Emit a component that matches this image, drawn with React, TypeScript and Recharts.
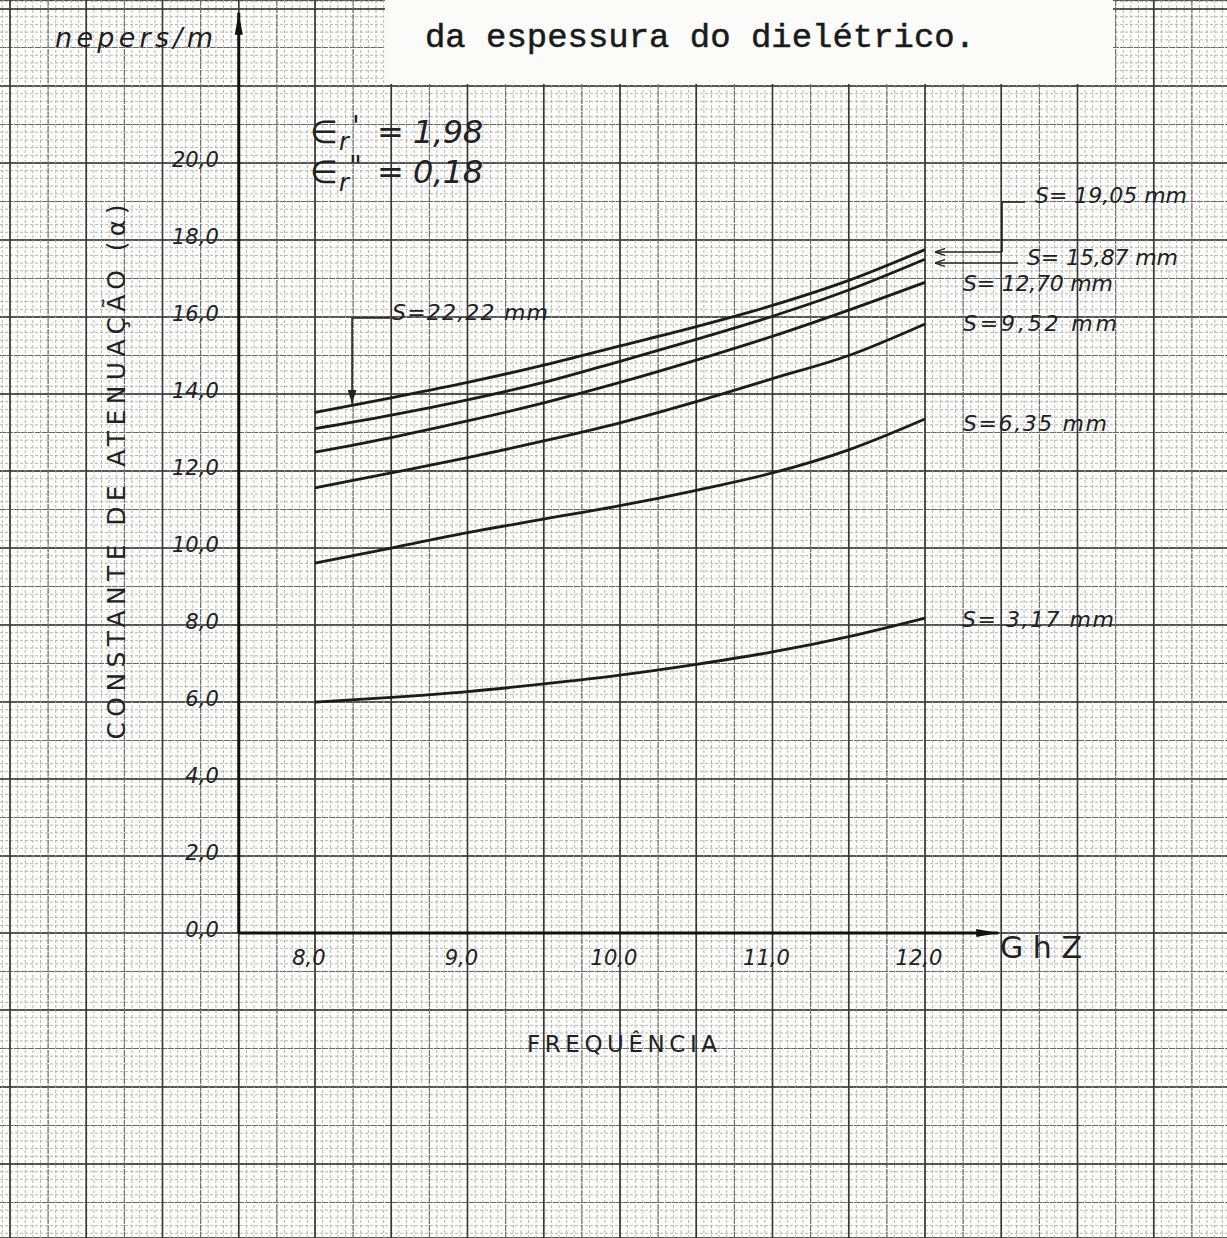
import React from 'react';
import {
  ComposedChart,
  Line,
  XAxis,
  YAxis,
  CartesianGrid,
  ReferenceLine,
  ReferenceDot,
} from 'recharts';

// ---- data ----
const frequencies = [8.0, 8.5, 9.0, 9.5, 10.0, 10.5, 11.0, 11.5, 12.0];
const s317 = [6.0, 6.12, 6.27, 6.47, 6.7, 6.98, 7.3, 7.7, 8.18];
const s635 = [9.61, 10.0, 10.4, 10.75, 11.1, 11.5, 11.95, 12.55, 13.35];
const s952 = [11.56, 11.95, 12.35, 12.78, 13.25, 13.8, 14.4, 15.0, 15.82];
const s1270 = [12.49, 12.87, 13.3, 13.77, 14.3, 14.88, 15.5, 16.18, 16.9];
const s1587 = [13.1, 13.45, 13.85, 14.3, 14.85, 15.42, 16.02, 16.7, 17.5];
const s1905 = [13.52, 13.9, 14.3, 14.75, 15.25, 15.75, 16.3, 16.95, 17.75];

const xTicks = [8, 9, 10, 11, 12];
const xTickLabels = ['8,0', '9,0', '10,0', '11,0', '12,0'];
const yTicks = [0, 2, 4, 6, 8, 10, 12, 14, 16, 18, 20];
const yTickLabels = ['0,0', '2,0', '4,0', '6,0', '8,0', '10,0', '12,0', '14,0', '16,0', '18,0', '20,0'];

const seriesKeys = ['s317', 's635', 's952', 's1270', 's1587', 's1905'];

const data = frequencies.map((f, i) => ({
  f,
  s317: s317[i],
  s635: s635[i],
  s952: s952[i],
  s1270: s1270[i],
  s1587: s1587[i],
  s1905: s1905[i],
}));

// paper extent in data units (the graph paper covers the whole page)
const X_DOMAIN: [number, number] = [5.9344, 13.9803];
const Y_DOMAIN: [number, number] = [-7.922, 24.234];

const range = (start: number, step: number, count: number, digits: number) =>
  Array.from({ length: count }, (_, i) => +(start + i * step).toFixed(digits));

const fineX = range(5.95, 0.05, 161, 2);
const fineY = range(-7.8, 0.2, 161, 1);
const medX = range(6.0, 0.25, 32, 2);
const medY = range(-7, 1, 32, 0);
const heavyX = range(6.0, 0.5, 16, 1);
const heavyY = range(-6, 2, 16, 0);

const W = 1227;
const H = 1238;
const INK = '#1c1c1c';
const HAND = '"DejaVu Sans", "Liberation Sans", sans-serif';

const FINE = { stroke: '#a4a4a4', strokeWidth: 0.8, strokeDasharray: '3 2' };
const MED = { stroke: '#686868', strokeWidth: 1.1, strokeDasharray: '6 1' };
const HEAVY = { stroke: '#383838', strokeWidth: 1.6 };

export default function App() {
  return (
    <div style={{ position: 'absolute', left: 0, top: 0, width: W, height: H, background: '#fdfdfc' }}>
      <svg width={0} height={0} style={{ position: 'absolute' }}>
        <defs>
          <marker id="arrowBig" viewBox="0 0 22 10" refX="22" refY="5" markerWidth="22" markerHeight="10" markerUnits="userSpaceOnUse" orient="auto">
            <path d="M0,1 L22,5 L0,9 z" fill="#111" />
          </marker>
          <marker id="arrowSmall" viewBox="0 0 10 8" refX="10" refY="4" markerWidth="10" markerHeight="8" markerUnits="userSpaceOnUse" orient="auto">
            <path d="M0,0.5 L10,4 L0,7.5" fill="none" stroke="#222" strokeWidth="1.3" />
          </marker>
          <marker id="arrowFill" viewBox="0 0 14 9" refX="14" refY="4.5" markerWidth="14" markerHeight="9" markerUnits="userSpaceOnUse" orient="auto">
            <path d="M0,0 L14,4.5 L0,9 z" fill="#222" />
          </marker>
        </defs>
      </svg>
      <ComposedChart width={W} height={H} data={data} margin={{ top: 0, right: 0, bottom: 0, left: 0 }}>
        <XAxis xAxisId={0} dataKey="f" type="number" scale="linear" domain={X_DOMAIN} allowDataOverflow hide ticks={xTicks} />
        <YAxis yAxisId={0} type="number" scale="linear" domain={Y_DOMAIN} allowDataOverflow hide ticks={yTicks} />
        <YAxis yAxisId="fy" type="number" scale="linear" domain={Y_DOMAIN} allowDataOverflow hide ticks={fineY} interval={0} />
        <YAxis yAxisId="my" type="number" scale="linear" domain={Y_DOMAIN} allowDataOverflow hide ticks={medY} interval={0} />
        <YAxis yAxisId="hy" type="number" scale="linear" domain={Y_DOMAIN} allowDataOverflow hide ticks={heavyY} interval={0} />

        {/* horizontal rulings of the graph paper */}
        <CartesianGrid xAxisId={0} yAxisId="fy" vertical={false} {...FINE} />
        <CartesianGrid xAxisId={0} yAxisId="my" vertical={false} {...MED} />
        <CartesianGrid xAxisId={0} yAxisId="hy" vertical={false} {...HEAVY} />

        {/* vertical rulings of the graph paper */}
        {fineX.map((v) => (
          <ReferenceLine key={'fx' + v} xAxisId={0} yAxisId={0} x={v} {...FINE} />
        ))}
        {medX.map((v) => (
          <ReferenceLine key={'mx' + v} xAxisId={0} yAxisId={0} x={v} {...MED} />
        ))}
        {heavyX.map((v) => (
          <ReferenceLine key={'hx' + v} xAxisId={0} yAxisId={0} x={v} {...HEAVY} />
        ))}

        {/* axes drawn on the paper */}
        <ReferenceLine xAxisId={0} yAxisId={0} segment={[{ x: 7.5, y: 0 }, { x: 7.5, y: 23.9 }]} stroke="#111" strokeWidth={3} markerEnd="url(#arrowBig)" />
        <ReferenceLine xAxisId={0} yAxisId={0} segment={[{ x: 7.5, y: 0 }, { x: 12.48, y: 0 }]} stroke="#111" strokeWidth={3} markerEnd="url(#arrowBig)" />

        {/* leader lines */}
        <ReferenceLine xAxisId={0} yAxisId={0} segment={[{ x: 12.656, y: 18.987 }, { x: 12.505, y: 18.987 }]} stroke="#222" strokeWidth={1.6} />
        <ReferenceLine xAxisId={0} yAxisId={0} segment={[{ x: 12.505, y: 18.987 }, { x: 12.505, y: 17.689 }]} stroke="#222" strokeWidth={1.6} />
        <ReferenceLine xAxisId={0} yAxisId={0} segment={[{ x: 12.505, y: 17.689 }, { x: 12.066, y: 17.689 }]} stroke="#222" strokeWidth={1.6} markerEnd="url(#arrowSmall)" />
        <ReferenceLine xAxisId={0} yAxisId={0} segment={[{ x: 12.61, y: 17.403 }, { x: 12.066, y: 17.403 }]} stroke="#222" strokeWidth={1.6} markerEnd="url(#arrowSmall)" />
        <ReferenceLine xAxisId={0} yAxisId={0} segment={[{ x: 8.492, y: 15.974 }, { x: 8.243, y: 15.974 }]} stroke="#222" strokeWidth={1.6} />
        <ReferenceLine xAxisId={0} yAxisId={0} segment={[{ x: 8.243, y: 15.974 }, { x: 8.243, y: 13.75 }]} stroke="#222" strokeWidth={1.6} markerEnd="url(#arrowFill)" />

        {seriesKeys.map((k) => (
          <Line
            key={k}
            xAxisId={0}
            yAxisId={0}
            dataKey={k}
            type="monotone"
            stroke={INK}
            strokeWidth={2.8}
            dot={false}
            activeDot={false}
            isAnimationActive={false}
          />
        ))}

        {yTicks.map((v, i) => (
          <ReferenceDot
            key={'y' + v}
            xAxisId={0}
            yAxisId={0}
            x={7.5}
            y={v + 0.1}
            r={0}
            stroke="none"
            fill="none"
            label={{ value: yTickLabels[i], position: 'left', offset: 20, fontSize: 21, fontStyle: 'italic', fill: '#222', fontFamily: HAND }}
          />
        ))}
        {xTicks.map((v, i) => (
          <ReferenceDot
            key={'x' + v}
            xAxisId={0}
            yAxisId={0}
            x={v - 0.04}
            y={0}
            r={0}
            stroke="none"
            fill="none"
            label={{ value: xTickLabels[i], position: 'bottom', offset: 17, fontSize: 21, fontStyle: 'italic', fill: '#222', fontFamily: HAND }}
          />
        ))}
      </ComposedChart>

      <svg width={W} height={H} style={{ position: 'absolute', left: 0, top: 0, pointerEvents: 'none' }}>
        {/* pasted typewritten caption */}
        <rect x={385} y={0} width={728} height={84} fill="#fbfbfa" />
        <text x={425} y={47} fontSize={33} fontFamily='"Liberation Mono", "DejaVu Sans Mono", monospace' fill="#1a1a1a" stroke="#1a1a1a" strokeWidth={0.5} textLength={550} lengthAdjust="spacingAndGlyphs">
          da espessura do dielétrico.
        </text>

        <text x={55} y={47} fontSize={27} fontStyle="italic" fontFamily={HAND} fill="#1e1e1e" textLength={158} lengthAdjust="spacing">
          nepers/m
        </text>

        <text transform="translate(125,472) rotate(-90)" textAnchor="middle" fontSize={25} fontFamily={HAND} fill="#222" textLength={535} lengthAdjust="spacing">
          CONSTANTE  DE  ATENUAÇÃO  (α)
        </text>

        <text x={622} y={1052} textAnchor="middle" fontSize={23} fontFamily={HAND} fill="#222" textLength={190} lengthAdjust="spacing">
          FREQUÊNCIA
        </text>
        <text x={1000} y={958} fontSize={30} fontFamily={HAND} fill="#222" textLength={82} lengthAdjust="spacing">
          GhZ
        </text>

        {/* permittivity */}
        <text x={310} y={143} fontSize={32} fontFamily={HAND} fill="#222">∈</text>
        <text x={352} y={136} fontSize={28} fontFamily={HAND} fill="#222">'</text>
        <text x={339} y={150} fontSize={24} fontStyle="italic" fontFamily={HAND} fill="#222">r</text>
        <text x={377} y={143} fontSize={32} fontStyle="italic" fontFamily={HAND} fill="#222" textLength={106} lengthAdjust="spacing">= 1,98</text>

        <text x={310} y={183} fontSize={32} fontFamily={HAND} fill="#222">∈</text>
        <text x={349} y={176} fontSize={28} fontFamily={HAND} fill="#222">"</text>
        <text x={339} y={191} fontSize={24} fontStyle="italic" fontFamily={HAND} fill="#222">r</text>
        <text x={377} y={183} fontSize={32} fontStyle="italic" fontFamily={HAND} fill="#222" textLength={106} lengthAdjust="spacing">= 0,18</text>

        {/* curve labels */}
        <text x={1035} y={203} fontSize={22} fontStyle="italic" fontFamily={HAND} fill="#222" textLength={152} lengthAdjust="spacing">S= 19,05 mm</text>
        <text x={1027} y={265} fontSize={22} fontStyle="italic" fontFamily={HAND} fill="#222" textLength={151} lengthAdjust="spacing">S= 15,87 mm</text>
        <text x={963} y={291} fontSize={22} fontStyle="italic" fontFamily={HAND} fill="#222" textLength={150} lengthAdjust="spacing">S= 12,70 mm</text>
        <text x={963} y={331} fontSize={22} fontStyle="italic" fontFamily={HAND} fill="#222" textLength={154} lengthAdjust="spacing">S=9,52 mm</text>
        <text x={963} y={431} fontSize={22} fontStyle="italic" fontFamily={HAND} fill="#222" textLength={144} lengthAdjust="spacing">S=6,35 mm</text>
        <text x={962} y={627} fontSize={22} fontStyle="italic" fontFamily={HAND} fill="#222" textLength={152} lengthAdjust="spacing">S= 3,17 mm</text>
        <text x={392} y={320} fontSize={22} fontStyle="italic" fontFamily={HAND} fill="#222" textLength={156} lengthAdjust="spacing">S=22,22 mm</text>
      </svg>
    </div>
  );
}
